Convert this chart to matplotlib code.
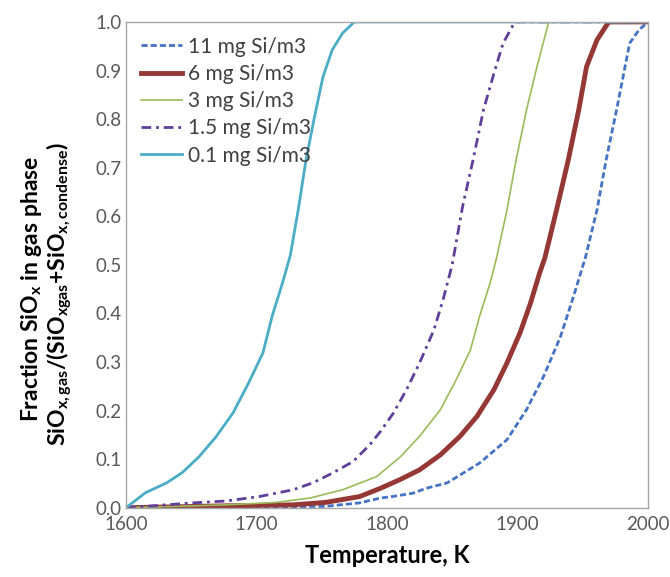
import matplotlib
matplotlib.use("Agg")
import matplotlib.pyplot as plt

plt.rcParams['font.family'] = ['Lato', 'DejaVu Sans']
plt.rcParams['mathtext.fontset'] = 'custom'
plt.rcParams['mathtext.rm'] = 'Lato:bold'
plt.rcParams['mathtext.it'] = 'Lato:bold'
plt.rcParams['mathtext.bf'] = 'Lato:bold'

# 11 mg Si/m3
t11 = [1600, 1700, 1753, 1779, 1795, 1804, 1820, 1830, 1846, 1871, 1892, 1907, 1920, 1933, 1943, 1952, 1961, 1968, 1976, 1982, 1986, 1993, 2000]
f11 = [0.0, 0.001, 0.003, 0.010, 0.020, 0.023, 0.030, 0.040, 0.051, 0.092, 0.140, 0.202, 0.270, 0.352, 0.435, 0.514, 0.613, 0.716, 0.819, 0.901, 0.956, 0.983, 1.0]

# 6 mg Si/m3
t6 = [1600, 1677, 1728, 1753, 1779, 1795, 1810, 1825, 1841, 1856, 1869, 1882, 1892, 1902, 1910, 1917, 1921, 1930, 1939, 1947, 1953, 1961, 1970, 2000]
f6 = [0.0, 0.004, 0.006, 0.011, 0.023, 0.040, 0.058, 0.078, 0.109, 0.147, 0.188, 0.243, 0.298, 0.360, 0.421, 0.483, 0.514, 0.613, 0.716, 0.819, 0.908, 0.963, 1.0, 1.0]

# 3 mg Si/m3
t3 = [1600, 1677, 1715, 1741, 1766, 1792, 1810, 1825, 1841, 1853, 1864, 1871, 1879, 1884, 1892, 1899, 1907, 1915, 1924, 2000]
f3 = [0.0, 0.006, 0.011, 0.020, 0.037, 0.064, 0.104, 0.147, 0.202, 0.263, 0.325, 0.394, 0.462, 0.514, 0.613, 0.716, 0.819, 0.908, 1.0, 1.0]

# 1.5 mg Si/m3
t15 = [1600, 1651, 1677, 1702, 1728, 1743, 1758, 1774, 1787, 1795, 1805, 1815, 1825, 1836, 1843, 1850, 1858, 1866, 1874, 1882, 1889, 1898, 2000]
f15 = [0.0, 0.010, 0.014, 0.023, 0.037, 0.051, 0.071, 0.095, 0.130, 0.157, 0.195, 0.243, 0.298, 0.366, 0.428, 0.500, 0.620, 0.716, 0.819, 0.894, 0.956, 1.0, 1.0]

# 0.1 mg Si/m3
t01 = [1600, 1615, 1631, 1643, 1656, 1669, 1682, 1694, 1705, 1712, 1720, 1726, 1732, 1738, 1744, 1751, 1758, 1766, 1775, 2000]
f01 = [0.0, 0.031, 0.051, 0.072, 0.105, 0.146, 0.195, 0.257, 0.319, 0.394, 0.463, 0.520, 0.613, 0.716, 0.798, 0.887, 0.942, 0.977, 1.0, 1.0]

labels = ['11 mg Si/m3', '6 mg Si/m3', '3 mg Si/m3', '1.5 mg Si/m3', '0.1 mg Si/m3']
xticks = [1600, 1700, 1800, 1900, 2000]
yticks = [0.0, 0.1, 0.2, 0.3, 0.4, 0.5, 0.6, 0.7, 0.8, 0.9, 1.0]

fig = plt.figure(figsize=(6.70, 5.77), dpi=100)
ax = fig.add_axes([0.188, 0.120, 0.779, 0.842])

ax.plot(t11, f11, color='#4472C4', lw=2.0, dashes=[2.2, 1.1], label=labels[0])
ax.plot(t6, f6, color='#953735', lw=3.5, label=labels[1])
ax.plot(t3, f3, color='#9BBB59', lw=1.2, label=labels[2])
ax.plot(t15, f15, color='#5F3F9A', lw=2.0, dashes=[3.5, 1.75, 1, 1.75], label=labels[3])
ax.plot(t01, f01, color='#4BACC6', lw=2.0, label=labels[4])

ax.set_xlim(1600, 2000)
ax.set_ylim(0, 1.0)
ax.set_xticks(xticks)
ax.set_yticks(yticks)
ax.set_xticklabels([str(v) for v in xticks])
ax.set_yticklabels([f"{v:.1f}" for v in yticks])
ax.tick_params(length=0, labelsize=13.5, labelcolor='#595959')
ax.tick_params(axis='y', pad=3)
ax.tick_params(axis='x', pad=6)
for s in ax.spines.values():
    s.set_color('#A6A6A6')
    s.set_linewidth(1.0)

ax.set_xlabel('Temperature, K', fontsize=17, fontweight='bold', labelpad=8)

fig.text(0.047, 0.499, 'Fraction SiO$_\\mathrm{x}$ in gas phase', rotation=90,
         fontsize=16.5, fontweight='bold', ha='center', va='center')
fig.text(0.088, 0.49, 'SiO$_\\mathrm{x,gas}$/(SiO$_\\mathrm{xgas}$+SiO$_\\mathrm{x,condense}$)', rotation=90,
         fontsize=16.5, fontweight='bold', ha='center', va='center')

leg = ax.legend(loc='upper left', frameon=False, fontsize=15, handlelength=2.0,
                handletextpad=0.3, labelspacing=0.35, borderaxespad=0.3,
                bbox_to_anchor=(0.0, 1.0))
for t in leg.get_texts():
    t.set_color('#404040')

fig.savefig('out.png', dpi=100)
